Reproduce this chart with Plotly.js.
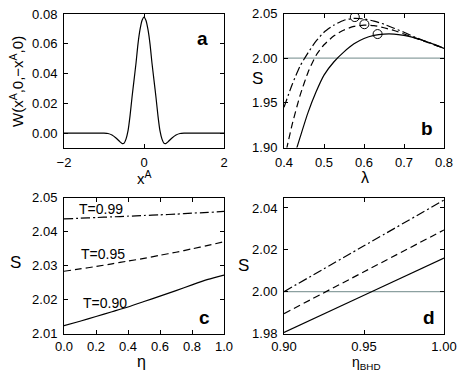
<!DOCTYPE html>
<html>
<head>
<meta charset="utf-8">
<script src="https://cdn.plot.ly/plotly-3.0.1.min.js"></script>
<style>
  body { margin: 0; background: #fff; }
  #chart { width: 463px; height: 373px; }
</style>
</head>
<body>
<div id="chart"></div>
<script>
// panel a: W(x^A,0,-x^A,0)
var aX = [-2, -1.5, -1.0, -0.9, -0.8, -0.7, -0.6, -0.55, -0.5, -0.45, -0.4, -0.35, -0.3, -0.25, -0.2, -0.15, -0.1, -0.05,
          0, 0.05, 0.1, 0.15, 0.2, 0.25, 0.3, 0.35, 0.4, 0.45, 0.5, 0.55, 0.6, 0.7, 0.8, 0.9, 1.0, 1.5, 2];
var aW = [0, 0, 0, -0.0002, -0.0012, -0.0032, -0.0058, -0.0069, -0.0068, -0.004, 0.0015, 0.0115, 0.024, 0.0355, 0.047, 0.060, 0.0695, 0.0757,
          0.078, 0.0757, 0.0695, 0.060, 0.047, 0.0355, 0.024, 0.0115, 0.0015, -0.004, -0.0068, -0.0069, -0.0058, -0.0032, -0.0012, -0.0002, 0, 0, 0];

// panel b: S vs lambda
var bLambda = [0.40, 0.42, 0.44, 0.46, 0.48, 0.50, 0.525, 0.55, 0.575, 0.60, 0.625, 0.65, 0.675, 0.70, 0.725, 0.75, 0.775, 0.80];
var bSolid  = [1.850, 1.882, 1.911, 1.939, 1.962, 1.981, 1.996, 2.007, 2.016, 2.022, 2.0255, 2.027, 2.027, 2.0255, 2.023, 2.0195, 2.0155, 2.011];
var bDashed = [1.885, 1.925, 1.958, 1.984, 2.003, 2.015, 2.025, 2.0315, 2.0355, 2.037, 2.0365, 2.034, 2.031, 2.027, 2.023, 2.019, 2.015, 2.011];
var bDashDot = [1.945, 1.970, 1.991, 2.006, 2.019, 2.029, 2.037, 2.0425, 2.0445, 2.044, 2.0415, 2.038, 2.0335, 2.029, 2.024, 2.0195, 2.0155, 2.011];
var bMaxLambda = [0.577, 0.601, 0.634];
var bMaxS = [2.046, 2.038, 2.027];

// panel c: S vs eta
var cEta = [0, 0.1, 0.2, 0.3, 0.4, 0.5, 0.6, 0.7, 0.8, 0.9, 1.0];
var cT90 = [2.0123, 2.0136, 2.0150, 2.0164, 2.0178, 2.0194, 2.0210, 2.0226, 2.0243, 2.0259, 2.0272];
var cT95 = [2.0283, 2.0290, 2.0297, 2.0305, 2.0313, 2.0321, 2.0330, 2.0339, 2.0349, 2.0359, 2.0370];
var cT99 = [2.0437, 2.0439, 2.0441, 2.0443, 2.0445, 2.0447, 2.0449, 2.0451, 2.0454, 2.0456, 2.0459];
var cLabels = ['T=0.99', 'T=0.95', 'T=0.90'];
var cLabelEta = [0.23, 0.245, 0.255];
var cLabelS = [2.0466, 2.0334, 2.0190];

// panel d: S vs eta_BHD
var dEta = [0.90, 0.95, 1.00];
var dSolid = [1.9805, 1.9983, 2.0161];
var dDashed = [1.9895, 2.0095, 2.0295];
var dDashDot = [2.0000, 2.0219, 2.0438];

var black = '#000';
var gray = 'rgb(140,160,160)';
var lw = 1.2;
var dashA = '7px,4px';
var dashDotA = '9px,3px,2px,3px';
var font = 'Liberation Sans, Arial, sans-serif';

function axis(domain, anchor, range, tickvals, fmt, standoff) {
  return {
    domain: domain, anchor: anchor, range: range,
    tickvals: tickvals, tickformat: fmt,
    ticks: 'inside', ticklen: 4, tickwidth: 1, tickcolor: black,
    showline: true, linecolor: black, linewidth: 1, mirror: 'ticks',
    showgrid: false, zeroline: false,
    ticklabelstandoff: standoff === undefined ? 3 : standoff,
    tickfont: {family: font, size: 13, color: black}
  };
}

function line(x, y, xa, ya, dash, color) {
  return {x: x, y: y, xaxis: xa, yaxis: ya, type: 'scatter', mode: 'lines',
          line: {color: color || black, width: lw, dash: dash || 'solid', shape: 'spline', smoothing: 0.6},
          hoverinfo: 'skip'};
}

var data = [
  line(aX, aW, 'x', 'y'),
  line([0.4, 0.8], [2.0, 2.0], 'x2', 'y2', 'solid', gray),
  line(bLambda, bSolid, 'x2', 'y2'),
  line(bLambda, bDashed, 'x2', 'y2', dashA),
  line(bLambda, bDashDot, 'x2', 'y2', dashDotA),
  {x: bMaxLambda, y: bMaxS, xaxis: 'x2', yaxis: 'y2', type: 'scatter', mode: 'markers',
   marker: {symbol: 'circle-open', size: 9, color: black, line: {width: 1, color: black}}},
  line(cEta, cT90, 'x3', 'y3'),
  line(cEta, cT95, 'x3', 'y3', dashA),
  line(cEta, cT99, 'x3', 'y3', dashDotA),
  line([0.9, 1.0], [2.0, 2.0], 'x4', 'y4', 'solid', gray),
  line(dEta, dSolid, 'x4', 'y4'),
  line(dEta, dDashed, 'x4', 'y4', dashA),
  line(dEta, dDashDot, 'x4', 'y4', dashDotA)
];

var colL = [64 / 463, 224 / 463];
var colR = [284 / 463, 444 / 463];
var rowT = [225.5 / 373, 359.5 / 373];
var rowB = [39.5 / 373, 175.5 / 373];

var annotations = [];
function note(text, x, y, size, opts) {
  var a = {text: text, x: x / 463, y: 1 - y / 373, xref: 'paper', yref: 'paper',
           showarrow: false, xanchor: 'center', yanchor: 'middle', borderpad: 0,
           font: {family: font, size: size, color: black}};
  for (var k in opts) a[k] = opts[k];
  annotations.push(a);
}

// axis titles
note('W(x<sup>A</sup>,0,\u2212x<sup>A</sup>,0)', 16, 82, 15, {textangle: -90});
note('x<sup>A</sup>', 144, 177, 15);
note('S', 257, 78, 17);
note('\u03bb', 365, 177, 16);
note('S', 15, 262, 17);
note('\u03b7', 141, 361, 16);
note('S', 243, 265, 17);
note('\u03b7<sub>BHD</sub>', 366, 363, 14);

// panel letters
note('<b>a</b>', 202, 39, 19);
note('<b>b</b>', 427, 128, 19);
note('<b>c</b>', 204, 317, 19);
note('<b>d</b>', 429, 317, 19);

// curve labels in panel c
for (var i = 0; i < cLabels.length; i++) {
  annotations.push({text: cLabels[i], x: cLabelEta[i], y: cLabelS[i], xref: 'x3', yref: 'y3',
                    showarrow: false, font: {family: font, size: 14, color: black}});
}

var layout = {
  width: 463, height: 373,
  margin: {l: 0, r: 0, t: 0, b: 0},
  paper_bgcolor: '#fff', plot_bgcolor: '#fff',
  showlegend: false,
  xaxis: axis(colL, 'y', [-2, 2], [-2, 0, 2], 'd'),
  yaxis: axis(rowT, 'x', [-0.0096, 0.0804], [0, 0.02, 0.04, 0.06, 0.08], '.2f'),
  xaxis2: axis(colR, 'y2', [0.4, 0.8], [0.4, 0.5, 0.6, 0.7, 0.8], '.1f'),
  yaxis2: axis(rowT, 'x2', [1.90, 2.05], [1.90, 1.95, 2.00, 2.05], '.2f'),
  xaxis3: axis(colL, 'y3', [0, 1], [0, 0.2, 0.4, 0.6, 0.8, 1.0], '.1f', 1),
  yaxis3: axis(rowB, 'x3', [2.01, 2.05], [2.01, 2.02, 2.03, 2.04, 2.05], '.2f'),
  xaxis4: axis(colR, 'y4', [0.90, 1.00], [0.90, 0.95, 1.00], '.2f', 1),
  yaxis4: axis(rowB, 'x4', [1.98, 2.045], [1.98, 2.00, 2.02, 2.04], '.2f'),
  annotations: annotations
};

Plotly.newPlot('chart', data, layout, {staticPlot: true, displayModeBar: false});
</script>
</body>
</html>
